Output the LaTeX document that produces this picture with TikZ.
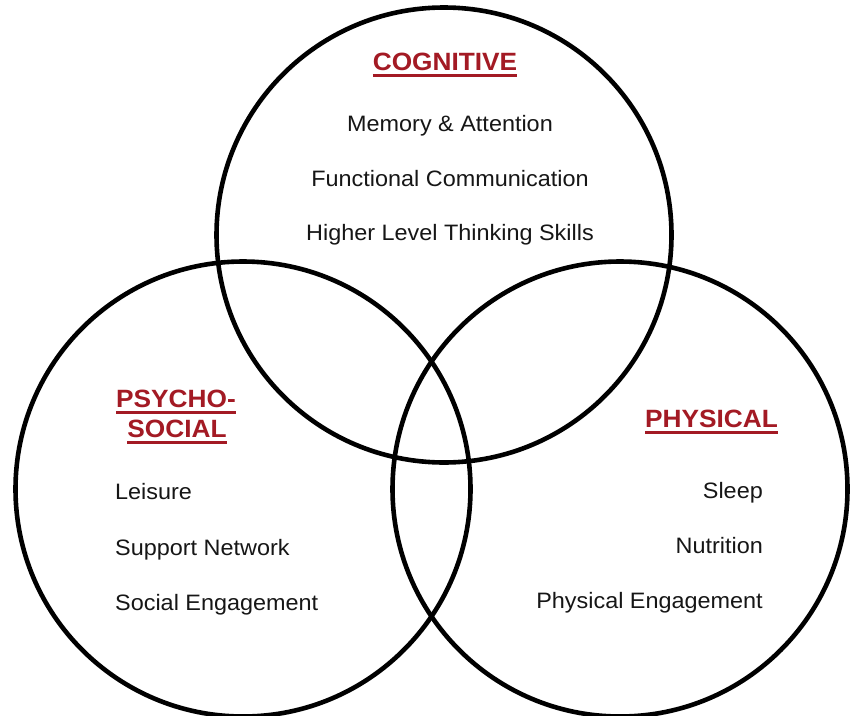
\documentclass[tikz,border=0pt]{standalone}
\usepackage{fontspec}
\setmainfont{Liberation Sans}[FakeStretch=1.05]
\definecolor{headred}{RGB}{163,26,36}
\definecolor{bodyink}{RGB}{22,22,22}
% heading underline: a rule under the full width of the word
\newcommand\headline[1]{\setbox0\hbox{#1}\rlap{\rule[-6.5pt]{\wd0}{2.6pt}}\box0}
\begin{document}
\begin{tikzpicture}[x=1pt,y=-1pt,
  venn/.style={circle,draw=black,line width=4.6pt,minimum size=455pt,inner sep=0pt},
  head/.style={text=headred,font=\fontsize{25}{31}\selectfont\bfseries,inner sep=0pt,anchor=base},
  item/.style={text=bodyink,font=\fontsize{22.3}{26}\selectfont,inner sep=0pt,anchor=base},
  itemL/.style={item,anchor=base west},
  itemR/.style={item,anchor=base east}]
\useasboundingbox (0,0) rectangle (856,715);
\fill[white] (0,0) rectangle (856,715);

% the three overlapping domains
\node[venn] (cogc) at (444,235) {};
\node[venn] (psyc) at (243,489) {};
\node[venn] (phyc) at (620,489) {};

% cognitive
\node[head] (coghead) at (445,70) {\headline{COGNITIVE}};
\node[item] (cog1) at (450,131) {Memory \& Attention};
\node[item] (cog2) at (450,186) {Functional Communication};
\node[item] (cog3) at (450,240) {Higher Level Thinking Skills};

% psycho-social
\node[head] (psyhead1) at (176,407) {\headline{PSYCHO-}};
\node[head] (psyhead2) at (177,437) {\headline{SOCIAL}};
\node[itemL] (psy1) at (115,499) {Leisure};
\node[itemL] (psy2) at (115,555) {Support Network};
\node[itemL] (psy3) at (115,610) {Social Engagement};

% physical
\node[head] (phyhead) at (711.5,427) {\headline{PHYSICAL}};
\node[itemR] (phy1) at (763,498) {Sleep};
\node[itemR] (phy2) at (763,553) {Nutrition};
\node[itemR] (phy3) at (763,608) {Physical Engagement};
\end{tikzpicture}
\end{document}
